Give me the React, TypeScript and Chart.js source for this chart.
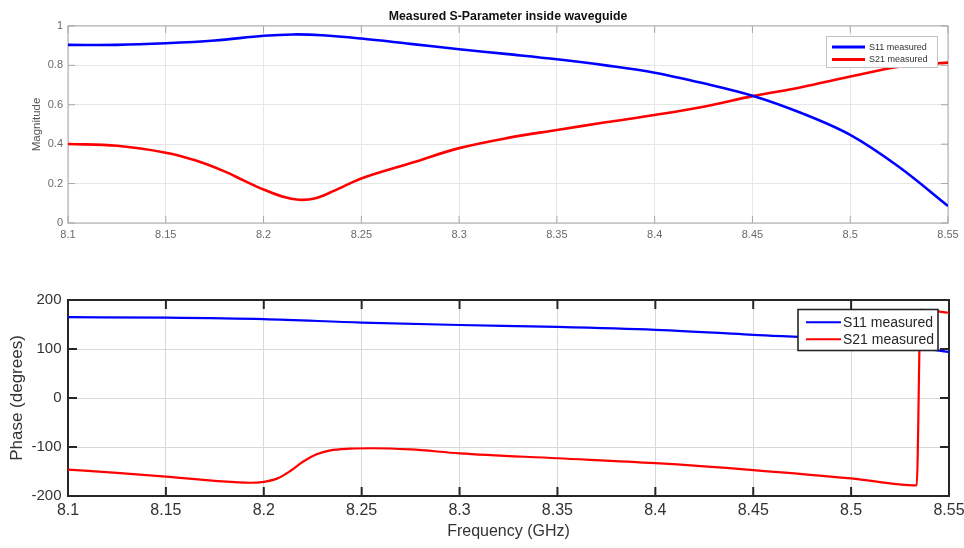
import React, { useEffect, useRef } from "react";
import { Chart, registerables } from "chart.js";
Chart.register(...registerables);

const FONT = "'Liberation Sans', Arial, Helvetica, sans-serif";

// ---- Tick values ----
const xTicks = [8.1, 8.15, 8.2, 8.25, 8.3, 8.35, 8.4, 8.45, 8.5, 8.55];
const magTicks = [0, 0.2, 0.4, 0.6, 0.8, 1];
const phaseTicks = [-200, -100, 0, 100, 200];

// ---- Labels ----
const chartTitle = "Measured S-Parameter inside waveguide";
const magLabel = "Magnitude";
const phaseLabel = "Phase (degrees)";
const freqLabel = "Frequency (GHz)";
const seriesLabels = ["S11 measured", "S21 measured"];
const seriesColors = ["#0000ff", "#ff0000"];

// ---- Magnitude data ----
const s11MagFreq = [8.1, 8.125, 8.15, 8.175, 8.2, 8.215, 8.23, 8.25, 8.275, 8.3, 8.325, 8.35, 8.375, 8.4, 8.425, 8.45, 8.475, 8.5, 8.525, 8.55];
const s11Mag = [0.904, 0.904, 0.912, 0.926, 0.950, 0.957, 0.953, 0.936, 0.909, 0.882, 0.857, 0.831, 0.800, 0.763, 0.709, 0.646, 0.558, 0.447, 0.284, 0.086];
const s21MagFreq = [8.1, 8.125, 8.15, 8.165, 8.18, 8.19, 8.2, 8.21, 8.218, 8.226, 8.236, 8.25, 8.275, 8.3, 8.325, 8.35, 8.375, 8.4, 8.425, 8.45, 8.475, 8.5, 8.525, 8.55];
const s21Mag = [0.401, 0.392, 0.357, 0.318, 0.262, 0.215, 0.170, 0.133, 0.118, 0.124, 0.163, 0.226, 0.303, 0.380, 0.432, 0.472, 0.511, 0.548, 0.590, 0.644, 0.689, 0.743, 0.793, 0.814];

// ---- Phase data ----
const s11PhaseFreq = [8.1, 8.15, 8.2, 8.25, 8.3, 8.35, 8.4, 8.45, 8.5, 8.525, 8.55];
const s11Phase = [165, 164, 161, 154, 149, 145, 139, 129, 118, 108, 94];
const s21PhaseFreq = [8.1, 8.125, 8.15, 8.175, 8.193, 8.2, 8.207, 8.2135, 8.22, 8.227, 8.234, 8.244, 8.255, 8.275, 8.3, 8.35, 8.4, 8.45, 8.5, 8.5335, 8.5355, 8.55];
const s21Phase = [-146, -153, -160.5, -169, -173, -171, -164, -149, -130, -115, -107, -103.5, -102.5, -105, -113, -123, -133, -147, -164, -178.5, 180, 174];

const toPts = (xs: number[], ys: number[]) => xs.map((x, i) => ({ x, y: ys[i] }));

type Deco = {
  frameColor: string;
  frameWidth: number;
  tickLen: number;
  yTicks: number[];
  legend: {
    left: number; top: number; width: number; height: number;
    rows: number[]; lineX: [number, number]; textX: number;
    font: number; lineWidth: number; border: string; borderWidth: number; textColor: string;
  };
};

function decoPlugin(d: Deco) {
  return {
    id: "deco",
    beforeDatasetsDraw(chart: any) {
      const { ctx, chartArea: a, scales } = chart;
      ctx.save();
      ctx.strokeStyle = d.frameColor;
      ctx.lineWidth = d.frameWidth;
      ctx.beginPath();
      for (const v of xTicks) {
        const px = scales.x.getPixelForValue(v);
        ctx.moveTo(px, a.bottom);
        ctx.lineTo(px, a.bottom - d.tickLen);
        ctx.moveTo(px, a.top);
        ctx.lineTo(px, a.top + d.tickLen);
      }
      for (const v of d.yTicks) {
        const py = scales.y.getPixelForValue(v);
        ctx.moveTo(a.left, py);
        ctx.lineTo(a.left + d.tickLen, py);
        ctx.moveTo(a.right, py);
        ctx.lineTo(a.right - d.tickLen, py);
      }
      ctx.stroke();
      ctx.strokeRect(a.left, a.top, a.right - a.left, a.bottom - a.top);
      ctx.restore();
    },
    afterDraw(chart: any) {
      const { ctx } = chart;
      const L = d.legend;
      ctx.save();
      ctx.fillStyle = "#ffffff";
      ctx.fillRect(L.left, L.top, L.width, L.height);
      ctx.strokeStyle = L.border;
      ctx.lineWidth = L.borderWidth;
      ctx.strokeRect(L.left, L.top, L.width, L.height);
      ctx.font = `${L.font}px ${FONT}`;
      ctx.textBaseline = "middle";
      ctx.textAlign = "left";
      chart.data.datasets.forEach((ds: any, i: number) => {
        const y = L.rows[i];
        ctx.strokeStyle = ds.borderColor;
        ctx.lineWidth = L.lineWidth;
        ctx.beginPath();
        ctx.moveTo(L.lineX[0], y);
        ctx.lineTo(L.lineX[1], y);
        ctx.stroke();
        ctx.fillStyle = L.textColor;
        ctx.fillText(ds.label, L.textX, y + 0.5);
      });
      ctx.restore();
    },
  };
}

function makeDataset(label: string, color: string, xs: number[], ys: number[], width: number, monotone: boolean) {
  return {
    label,
    data: toPts(xs, ys),
    borderColor: color,
    backgroundColor: color,
    borderWidth: width,
    pointRadius: 0,
    fill: false,
    tension: monotone ? 0 : 0.35,
    cubicInterpolationMode: monotone ? "monotone" : "default",
  };
}

const zeroPad = (s: any) => { s.paddingLeft = 0; s.paddingRight = 0; };

export default function App() {
  const topRef = useRef<HTMLCanvasElement | null>(null);
  const botRef = useRef<HTMLCanvasElement | null>(null);

  useEffect(() => {
    const top = new Chart(topRef.current as HTMLCanvasElement, {
      type: "line",
      data: {
        datasets: [
          makeDataset(seriesLabels[0], seriesColors[0], s11MagFreq, s11Mag, 2.6, false),
          makeDataset(seriesLabels[1], seriesColors[1], s21MagFreq, s21Mag, 2.6, false),
        ],
      },
      options: {
        responsive: false,
        animation: false,
        layout: { padding: { left: 0, right: 16, top: 0, bottom: 0 } },
        plugins: {
          legend: { display: false },
          tooltip: { enabled: false },
          title: {
            display: true,
            text: chartTitle,
            fullSize: false,
            color: "#111111",
            font: { family: FONT, size: 12.3, weight: "bold" },
            padding: { top: 8.8, bottom: 2.4 },
          },
        },
        scales: {
          x: {
            type: "linear",
            min: 8.1,
            max: 8.55,
            afterBuildTicks: (s: any) => { s.ticks = xTicks.map((v) => ({ value: v })); },
            afterFit: (s: any) => { s.height = 27; zeroPad(s); },
            ticks: {
              callback: (v: any) => String(v),
              color: "#6a6a6a",
              font: { family: FONT, size: 11 },
              padding: 5.4,
              maxRotation: 0,
              autoSkip: false,
            },
            grid: { color: "#e6e6e6", drawTicks: false, lineWidth: 1 },
            border: { display: false },
          },
          y: {
            type: "linear",
            min: 0,
            max: 1,
            afterBuildTicks: (s: any) => { s.ticks = magTicks.map((v) => ({ value: v })); },
            afterFit: (s: any) => { s.width = 68; },
            ticks: {
              callback: (v: any) => String(v),
              color: "#6a6a6a",
              font: { family: FONT, size: 11 },
              padding: 5,
            },
            grid: { color: "#e6e6e6", drawTicks: false, lineWidth: 1 },
            border: { display: false },
            title: {
              display: true,
              text: magLabel,
              color: "#555555",
              font: { family: FONT, size: 11.5 },
              padding: { top: 30.1, bottom: 0 },
            },
          },
        },
      },
      plugins: [
        decoPlugin({
          frameColor: "#a8a8a8",
          frameWidth: 1,
          tickLen: 7,
          yTicks: magTicks,
          legend: {
            left: 826.5, top: 36.5, width: 111, height: 31,
            rows: [47, 59.5], lineX: [832, 865], textX: 869,
            font: 9, lineWidth: 3, border: "#c4c4c4", borderWidth: 1, textColor: "#333333",
          },
        }),
      ],
    } as any);

    const bot = new Chart(botRef.current as HTMLCanvasElement, {
      type: "line",
      data: {
        datasets: [
          makeDataset(seriesLabels[0], seriesColors[0], s11PhaseFreq, s11Phase, 2.2, true),
          makeDataset(seriesLabels[1], seriesColors[1], s21PhaseFreq, s21Phase, 2.2, true),
        ],
      },
      options: {
        responsive: false,
        animation: false,
        layout: { padding: { left: 0, right: 15, top: 50, bottom: 0 } },
        plugins: {
          legend: { display: false },
          tooltip: { enabled: false },
        },
        scales: {
          x: {
            type: "linear",
            min: 8.1,
            max: 8.55,
            afterBuildTicks: (s: any) => { s.ticks = xTicks.map((v) => ({ value: v })); },
            afterFit: (s: any) => { s.height = 52; zeroPad(s); },
            ticks: {
              callback: (v: any) => String(v),
              color: "#333333",
              font: { family: FONT, size: 16 },
              padding: 5,
              maxRotation: 0,
              autoSkip: false,
            },
            grid: { color: "#d8d8d8", drawTicks: false, lineWidth: 1 },
            border: { display: false },
            title: {
              display: true,
              text: freqLabel,
              color: "#333333",
              font: { family: FONT, size: 16 },
              padding: { top: 0, bottom: 6.6 },
            },
          },
          y: {
            type: "linear",
            min: -200,
            max: 200,
            afterBuildTicks: (s: any) => { s.ticks = phaseTicks.map((v) => ({ value: v })); },
            afterFit: (s: any) => { s.width = 68; },
            ticks: {
              callback: (v: any) => String(v),
              color: "#333333",
              font: { family: FONT, size: 15 },
              padding: 6.5,
            },
            grid: { color: "#d8d8d8", drawTicks: false, lineWidth: 1 },
            border: { display: false },
            title: {
              display: true,
              text: phaseLabel,
              color: "#333333",
              font: { family: FONT, size: 17 },
              padding: { top: 7.3, bottom: 0 },
            },
          },
        },
      },
      plugins: [
        decoPlugin({
          frameColor: "#262626",
          frameWidth: 2,
          tickLen: 9,
          yTicks: phaseTicks,
          legend: {
            left: 798, top: 59.5, width: 140, height: 41,
            rows: [72.3, 89.3], lineX: [806, 841], textX: 843,
            font: 14, lineWidth: 2, border: "#262626", borderWidth: 1.6, textColor: "#262626",
          },
        }),
      ],
    } as any);

    return () => {
      top.destroy();
      bot.destroy();
    };
  }, []);

  return (
    <div style={{ position: "fixed", left: 0, top: 0, width: 964, height: 548, background: "#ffffff" }}>
      <canvas ref={topRef} width={964} height={250} style={{ position: "absolute", left: 0, top: 0, display: "block" }} />
      <canvas ref={botRef} width={964} height={298} style={{ position: "absolute", left: 0, top: 250, display: "block" }} />
    </div>
  );
}
